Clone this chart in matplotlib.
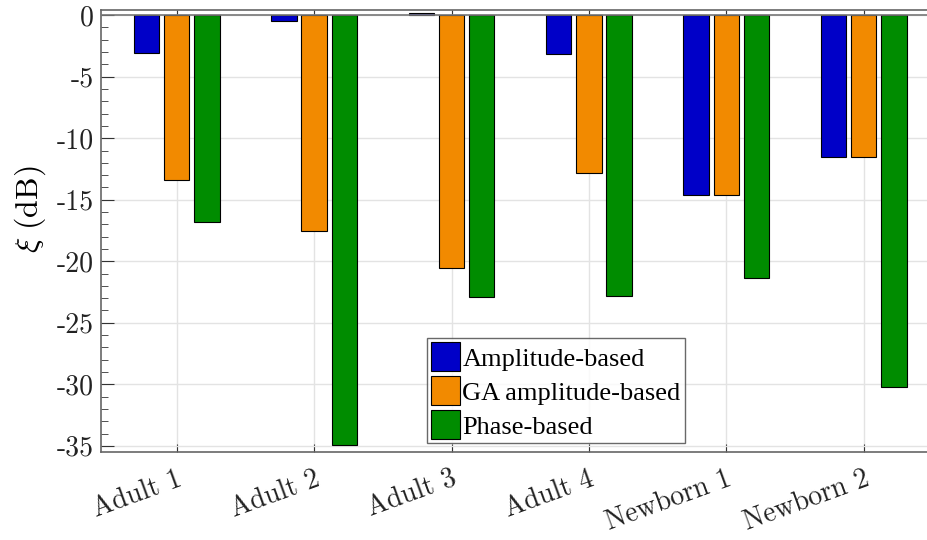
import numpy as np
import matplotlib.pyplot as plt
from matplotlib.ticker import MultipleLocator

plt.rcParams['font.family'] = 'cmr10'
plt.rcParams['mathtext.fontset'] = 'cm'
plt.rcParams['axes.unicode_minus'] = False
plt.rcParams['axes.formatter.use_mathtext'] = False

subjects = ['Adult 1', 'Adult 2', 'Adult 3', 'Adult 4', 'Newborn 1', 'Newborn 2']
amplitude = [-3.1, -0.5, 0.15, -3.15, -14.6, -11.5]
ga_amplitude = [-13.4, -17.55, -20.55, -12.85, -14.6, -11.5]
phase = [-16.8, -34.95, -22.9, -22.85, -21.4, -30.2]

series = [
    ('Amplitude-based', amplitude, '#0000c8'),
    ('GA amplitude-based', ga_amplitude, '#f28a00'),
    ('Phase-based', phase, '#008c00'),
]

fig = plt.figure(figsize=(9.28, 5.4), dpi=100)
ax = fig.add_axes([0.109, 0.163, 0.895, 0.818])

x = np.arange(1, len(subjects) + 1)
offset = 0.22
width = 0.185
for i, (label, vals, color) in enumerate(series):
    ax.bar(x + (i - 1) * offset, vals, width, color=color, edgecolor='black',
           linewidth=0.8, label=label, zorder=3)

ax.axhline(0, color='#777777', linewidth=1.2, zorder=4)

ax.set_xlim(0.45, 6.495)
ax.set_ylim(-35.5, 0.4)
ax.set_xticks(x)
ax.set_xticklabels(subjects, rotation=20, ha='right', rotation_mode='anchor')
ax.yaxis.set_major_locator(MultipleLocator(5))
ax.yaxis.set_minor_locator(MultipleLocator(1))
ax.tick_params(axis='both', which='both', direction='in', top=True, right=False,
               colors='#333333', labelcolor='#222222')
ax.tick_params(axis='y', which='major', length=9, labelsize=20, pad=5)
ax.tick_params(axis='y', which='minor', length=5)
ax.tick_params(axis='x', which='major', length=6, labelsize=20, pad=10)
ax.grid(True, which='major', color='#e3e3e3', linewidth=1.0, zorder=0)
for s in ax.spines.values():
    s.set_color('#666666')
    s.set_linewidth(1.2)

ax.set_ylabel(r'$\xi\ (\mathrm{dB})$', fontsize=23)
ax.yaxis.set_label_coords(-0.064, 0.55)

leg = ax.legend(loc='lower left', bbox_to_anchor=(0.392, 0.02),
                prop={'family': 'Liberation Serif', 'size': 19},
                frameon=True, fancybox=False, edgecolor='#444444',
                handlelength=1.1, handleheight=1.3, handletextpad=0.1,
                borderpad=0.15, labelspacing=0.2, borderaxespad=0)
leg.get_frame().set_linewidth(1.0)

fig.savefig('out.png', dpi=100)
